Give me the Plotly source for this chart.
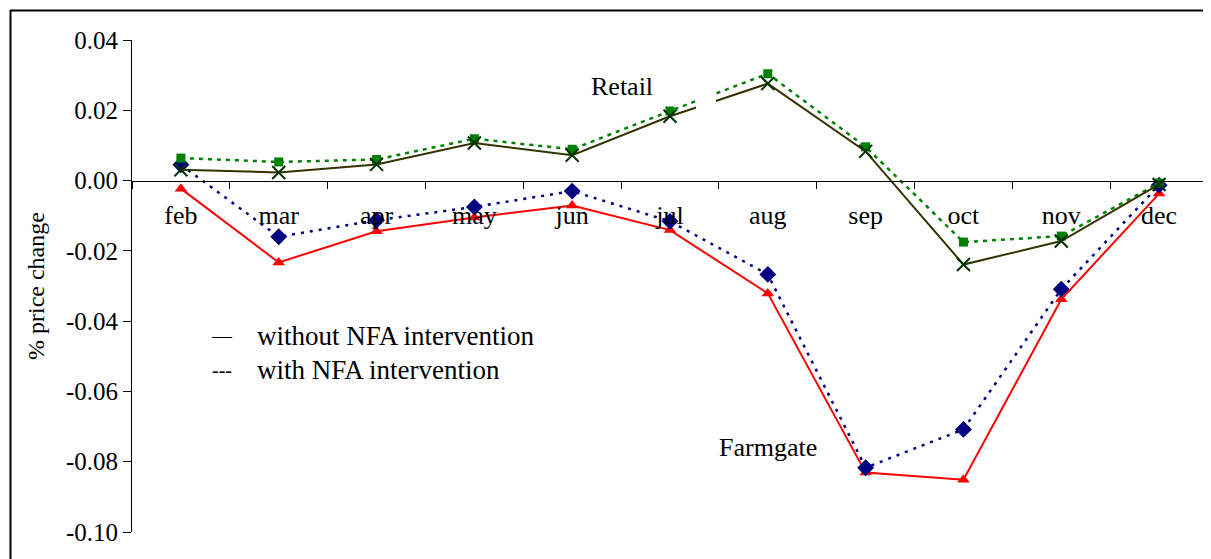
import plotly.graph_objects as go

months = ["feb", "mar", "apr", "may", "jun", "jul", "aug", "sep", "oct", "nov", "dec"]
retail_without = [0.0031, 0.0023, 0.0046, 0.0107, 0.0072, 0.0183, 0.0276, 0.0083, -0.0239, -0.0172, -0.0011]
retail_with = [0.0064, 0.0053, 0.0060, 0.0119, 0.0089, 0.0198, 0.0304, 0.0096, -0.0175, -0.0158, -0.0007]
farm_without = [-0.0023, -0.0233, -0.0144, -0.0105, -0.0071, -0.0141, -0.0321, -0.0831, -0.0851, -0.0338, -0.0037]
farm_with = [0.0045, -0.0160, -0.0113, -0.0075, -0.0030, -0.0116, -0.0267, -0.0817, -0.0708, -0.0309, -0.0013]
y_ticks = [-0.10, -0.08, -0.06, -0.04, -0.02, 0.00, 0.02, 0.04]
y_tick_labels = ["-0.10", "-0.08", "-0.06", "-0.04", "-0.02", "0.00", "0.02", "0.04"]

SERIF = "Liberation Serif, Times New Roman, serif"

OFF = 8  # default body margin of the html page
W, H = 1211 - OFF, 559 - OFF
L, R, T, B = 132 - OFF, 3, 40 - OFF, 27
PW, PH = W - L - R, H - T - B


def px(xp):
    # page pixel -> paper fraction
    return (xp - OFF - L) / PW


def py(yp):
    return (H - B - (yp - OFF)) / PH


fig = go.Figure()

fig.add_trace(go.Scatter(
    x=months, y=farm_without, mode="lines+markers", name="farmgate without",
    line=dict(color="#ff0000", width=2),
    marker=dict(symbol="triangle-up", size=11, color="#ff0000"),
))
fig.add_trace(go.Scatter(
    x=months, y=farm_with, mode="lines+markers", name="farmgate with",
    line=dict(color="#000080", width=2.5, dash="3px,6px"),
    marker=dict(symbol="diamond", size=13, color="#000080"),
))
fig.add_trace(go.Scatter(
    x=months, y=retail_with, mode="lines+markers", name="retail with",
    line=dict(color="#008000", width=2.5, dash="4px,5px"),
    marker=dict(symbol="square", size=9, color="#008000"),
))
fig.add_trace(go.Scatter(
    x=months, y=retail_without, mode="lines+markers", name="retail without",
    line=dict(color="#333300", width=2),
    marker=dict(symbol="x-thin", size=13, color="#003300",
                line=dict(color="#003300", width=2)),
))

fig.update_layout(
    width=W, height=H,
    margin=dict(l=L, r=R, t=T, b=B),
    paper_bgcolor="white", plot_bgcolor="white",
    showlegend=False,
    font=dict(family=SERIF, size=25, color="black"),
    xaxis=dict(
        type="category", range=[-0.5, 10.5],
        anchor="free", position=0.10 / 0.14,
        showline=True, linecolor="black", linewidth=1,
        ticks="outside", ticklen=7, tickcolor="black", tickwidth=1,
        tickson="boundaries", showgrid=False, zeroline=False,
        ticklabelstandoff=11,
        tickfont=dict(family=SERIF, size=26, color="black"),
    ),
    yaxis=dict(
        range=[-0.10, 0.04], tickvals=y_ticks, ticktext=y_tick_labels,
        showline=True, linecolor="black", linewidth=1,
        ticks="outside", ticklen=8, tickcolor="black",
        showgrid=False, zeroline=False,
        tickfont=dict(family=SERIF, size=25, color="black"),
    ),
)

# white box that interrupts the retail lines between jul and aug
fig.add_shape(type="rect", xref="paper", yref="y",
              x0=px(696), x1=px(716), y0=0.0190, y1=0.034,
              fillcolor="white", line=dict(width=0), layer="above")

# outer frame (top and left edges visible)
fig.add_shape(type="line", xref="paper", yref="paper",
              x0=px(10), x1=px(1215), y0=py(10.5), y1=py(10.5),
              line=dict(color="black", width=2))
fig.add_shape(type="line", xref="paper", yref="paper",
              x0=px(10.5), x1=px(10.5), y0=py(10), y1=py(570),
              line=dict(color="black", width=2))

ann = [
    dict(text="% price change", x=px(36), y=0.5, textangle=-90, size=24, xanchor="center"),
    dict(text="Retail", x=px(622), y=py(86), size=26, xanchor="center"),
    dict(text="Farmgate", x=px(768), y=py(447), size=26, xanchor="center"),
    dict(text="—", x=px(222), y=py(336), size=20, xanchor="center"),
    dict(text="---", x=px(222), y=py(370), size=20, xanchor="center"),
    dict(text="without NFA intervention", x=px(255), y=py(336), size=27, xanchor="left"),
    dict(text="with NFA intervention", x=px(255), y=py(370), size=27, xanchor="left"),
]
for a in ann:
    fig.add_annotation(
        text=a["text"], x=a["x"], y=a["y"], xref="paper", yref="paper",
        xanchor=a["xanchor"], yanchor="middle", showarrow=False,
        textangle=a.get("textangle", 0),
        font=dict(family=SERIF, size=a["size"], color="black"),
    )

fig.write_html("out.html")
